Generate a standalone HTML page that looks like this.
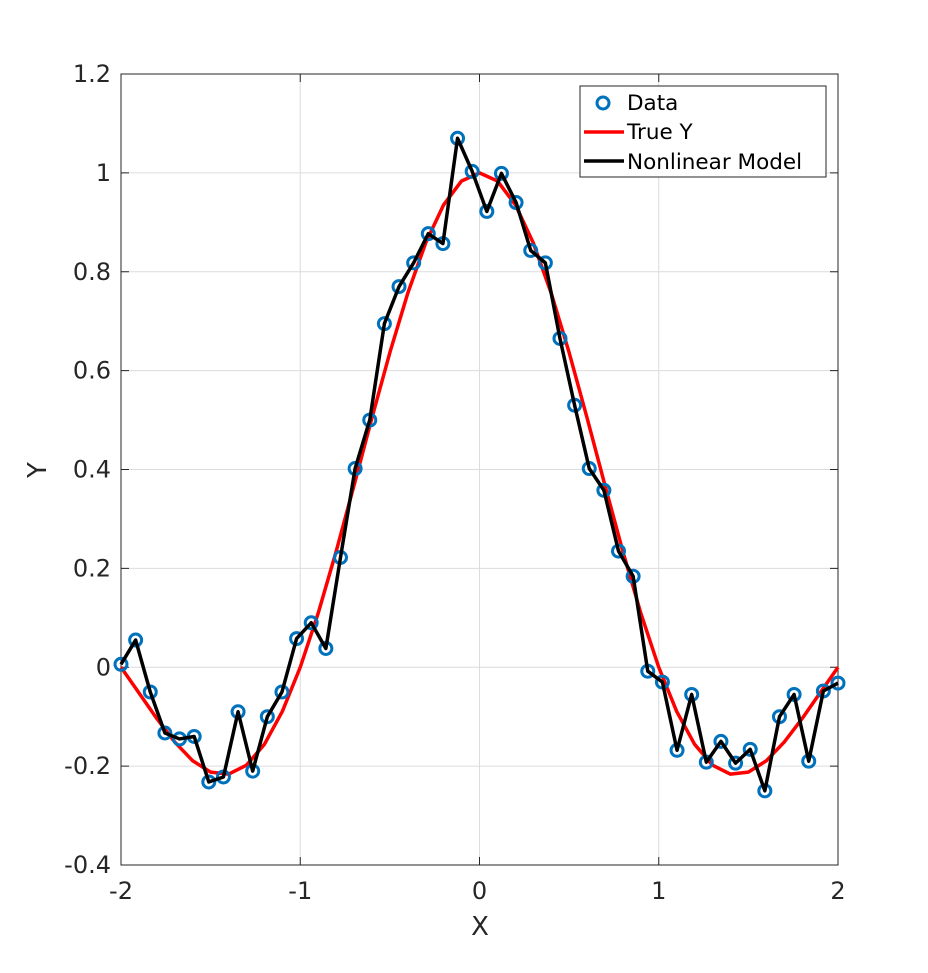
<!DOCTYPE html>
<html><head><meta charset="utf-8"><style>
body{margin:0;background:#fff;}
svg{display:block;font-family:"DejaVu Sans","Liberation Sans",sans-serif;}
</style></head><body>
<svg id="chart" width="928" height="973" xmlns="http://www.w3.org/2000/svg"></svg>
<script>
const xTicks=[-2,-1,0,1,2];
const xTickLabels=["-2","-1","0","1","2"];
const yTicks=[-0.4,-0.2,0,0.2,0.4,0.6,0.8,1,1.2];
const yTickLabels=["-0.4","-0.2","0","0.2","0.4","0.6","0.8","1","1.2"];
const dataY=[0.006,0.055,-0.05,-0.133,-0.145,-0.14,-0.232,-0.222,-0.09,-0.21,-0.1,-0.05,0.058,0.09,0.038,0.222,0.402,0.5,0.695,0.77,0.818,0.877,0.857,1.07,1.003,0.922,0.999,0.94,0.843,0.818,0.665,0.53,0.402,0.358,0.235,0.184,-0.008,-0.03,-0.168,-0.055,-0.192,-0.15,-0.194,-0.166,-0.25,-0.1,-0.055,-0.19,-0.048,-0.032];
const modelY=dataY.slice();
const trueX=[-2,-1.9,-1.8,-1.7,-1.6,-1.5,-1.4,-1.3,-1.2,-1.1,-1,-0.9,-0.8,-0.7,-0.6,-0.5,-0.4,-0.3,-0.2,-0.1,0,0.1,0.2,0.3,0.4,0.5,0.6,0.7,0.8,0.9,1,1.1,1.2,1.3,1.4,1.5,1.6,1.7,1.8,1.9,2];
const trueY=[0,-0.0518,-0.1039,-0.1514,-0.1892,-0.2122,-0.2162,-0.1981,-0.1559,-0.0894,0,0.1093,0.2339,0.3679,0.5046,0.6366,0.7568,0.8584,0.9355,0.9836,1,0.9836,0.9355,0.8584,0.7568,0.6366,0.5046,0.3679,0.2339,0.1093,0,-0.0894,-0.1559,-0.1981,-0.2162,-0.2122,-0.1892,-0.1514,-0.1039,-0.0518,0];

const L=121,R=838,T=74,B=865;
const sx=v=>L+(v+2)/4*(R-L);
const sy=v=>B-(v+0.4)/1.6*(B-T);
const svg=document.getElementById('chart');
const NS='http://www.w3.org/2000/svg';
function mk(tag,attrs,parent){const e=document.createElementNS(NS,tag);for(const k in attrs)e.setAttribute(k,attrs[k]);(parent||svg).appendChild(e);return e;}

const grid=mk('g',{});


xTicks.forEach(t=>{mk('line',{x1:sx(t),x2:sx(t),y1:T,y2:B,stroke:'#dcdcdc','stroke-width':1},grid);});
yTicks.forEach(t=>{mk('line',{x1:L,x2:R,y1:sy(t),y2:sy(t),stroke:'#dcdcdc','stroke-width':1},grid);});

const ax=mk('rect',{x:L,y:T,width:R-L,height:B-T,fill:'none',stroke:'#262626','stroke-width':1});



const xg=mk('g',{});


xTicks.forEach((t,i)=>{
  mk('line',{x1:sx(t),x2:sx(t),y1:B,y2:B-8,stroke:'#262626'},xg);
  mk('line',{x1:sx(t),x2:sx(t),y1:T,y2:T+8,stroke:'#262626'},xg);
  const tx=mk('text',{x:sx(t),y:B+34,'text-anchor':'middle','font-size':24,fill:'#262626'},xg);
  tx.textContent=xTickLabels[i];
  
  
});
const yg=mk('g',{});


yTicks.forEach((t,i)=>{
  mk('line',{x1:L,x2:L+8,y1:sy(t),y2:sy(t),stroke:'#262626'},yg);
  mk('line',{x1:R,x2:R-8,y1:sy(t),y2:sy(t),stroke:'#262626'},yg);
  const tx=mk('text',{x:L-10,y:sy(t)+8,'text-anchor':'end','font-size':24,fill:'#262626'},yg);
  tx.textContent=yTickLabels[i];
  
  
});
const xt=mk('text',{x:480,y:935,'text-anchor':'middle','font-size':26,fill:'#262626'});
xt.textContent='X';


const yt=mk('text',{x:0,y:0,'text-anchor':'middle','font-size':26,fill:'#262626',transform:'translate(46,470) rotate(-90)'});
yt.textContent='Y';



const n=dataY.length;
const xs=dataY.map((_,i)=>-2+4*i/(n-1));

const tl=mk('polyline',{points:trueX.map((x,i)=>sx(x)+','+sy(trueY[i])).join(' '),fill:'none',stroke:'#ff0000','stroke-width':3.5,'stroke-linejoin':'round'});



const dg=mk('g',{});


xs.forEach((x,i)=>{
  const c=mk('circle',{cx:sx(x),cy:sy(dataY[i]),r:6,fill:'none',stroke:'#0072BD','stroke-width':3},dg);
  
  
});

const ml=mk('polyline',{points:xs.map((x,i)=>sx(x)+','+sy(modelY[i])).join(' '),fill:'none',stroke:'#000','stroke-width':3.5,'stroke-linejoin':'round'});



const lg=mk('g',{});


mk('rect',{x:580,y:86,width:246,height:91,fill:'#fff',stroke:'#262626','stroke-width':1},lg);
mk('circle',{cx:603,cy:103,r:6,fill:'none',stroke:'#0072BD','stroke-width':3},lg);
mk('line',{x1:584,x2:624,y1:132,y2:132,stroke:'#ff0000','stroke-width':3.5},lg);
mk('line',{x1:584,x2:624,y1:161,y2:161,stroke:'#000','stroke-width':3.5},lg);
[['Data',110],['True Y',139],['Nonlinear Model',169]].forEach(([s,y])=>{
  const t=mk('text',{x:627,y:y,'font-size':21.5,fill:'#000'},lg);
  t.textContent=s;
  
  
});
</script>
</body></html>
